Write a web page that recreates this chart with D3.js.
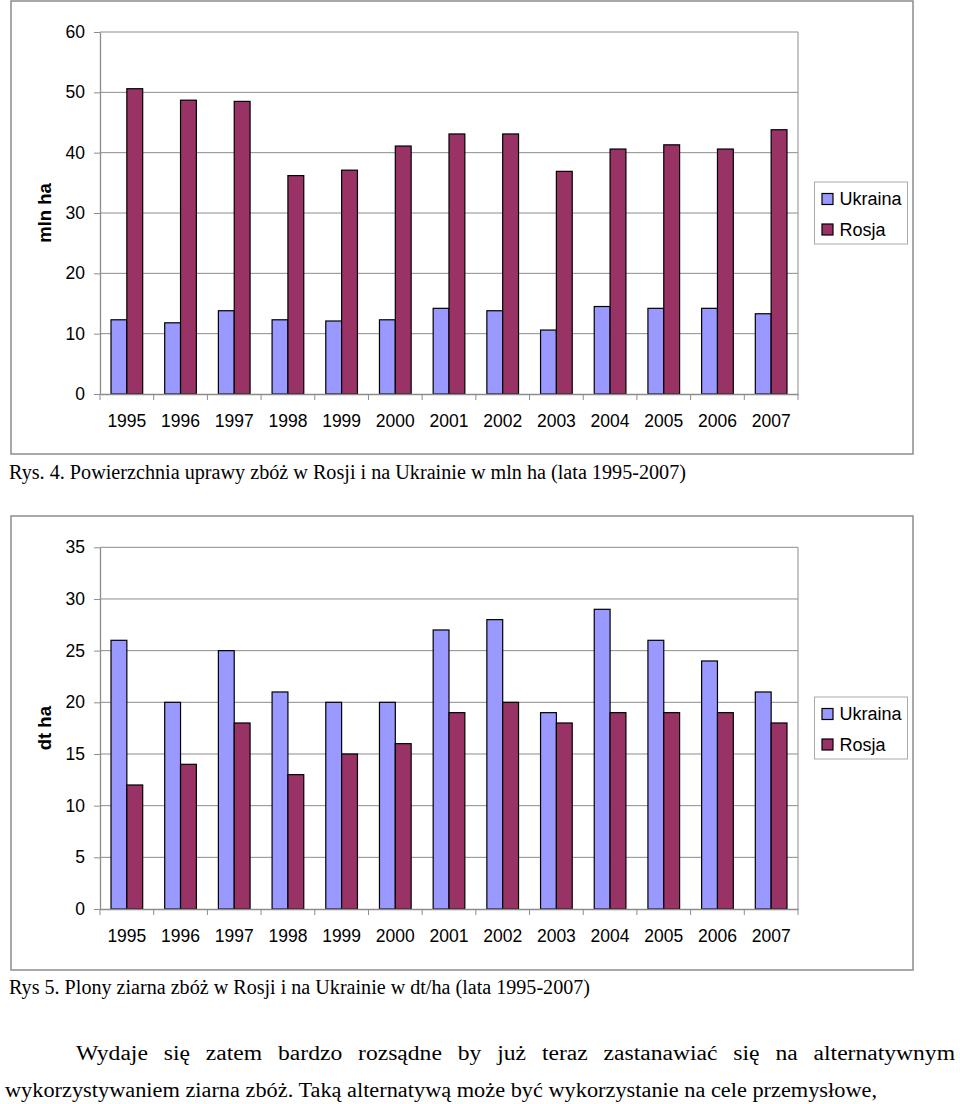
<!DOCTYPE html>
<html><head><meta charset="utf-8">
<script src="https://cdn.jsdelivr.net/npm/d3@7"></script>
<style>body{margin:0;background:#fff}svg{display:block}</style>
</head><body>
<svg id="c" width="960" height="1104"></svg>
<script>
const years = ["1995","1996","1997","1998","1999","2000","2001","2002","2003","2004","2005","2006","2007"];
const seriesNames = ["Ukraina","Rosja"];
const areaUkraina = [12.3,11.8,13.8,12.3,12.1,12.3,14.2,13.8,10.6,14.5,14.2,14.2,13.3];
const areaRosja   = [50.6,48.7,48.5,36.2,37.1,41.1,43.1,43.1,36.9,40.6,41.3,40.6,43.8];
const yieldUkraina = [26,20,25,21,20,20,27,28,19,29,26,24,21];
const yieldRosja   = [12,14,18,13,15,16,19,20,18,19,19,19,18];
const ticksTop = [0,10,20,30,40,50,60];
const ticksBottom = [0,5,10,15,20,25,30,35];
const colors = {"Ukraina":"#9999FF","Rosja":"#993366"};
const caption1 = "Rys. 4. Powierzchnia uprawy zbóż w Rosji i na Ukrainie w mln ha (lata 1995-2007)";
const caption2 = "Rys 5. Plony ziarna zbóż w Rosji i na Ukrainie w dt/ha (lata 1995-2007)";
const para1 = "Wydaje się zatem bardzo rozsądne by już teraz zastanawiać się na alternatywnym";
const para2 = "wykorzystywaniem ziarna zbóż. Taką alternatywą może być wykorzystanie na cele przemysłowe,";

const svg = d3.select("#c");
const sans = "'Liberation Sans', Arial, sans-serif";
const serif = "'Liberation Serif', 'Times New Roman', serif";

function chart(cfg){
  const g = svg.append("g");
  g.append("rect").attr("x",cfg.fx).attr("y",cfg.fy).attr("width",cfg.fw).attr("height",cfg.fh)
    .attr("fill","#fff").attr("stroke","#8c8c8c").attr("stroke-width",1.5);
  const x0 = d3.scaleBand().domain(years).range([cfg.left,cfg.right]).padding(0);
  const bw = x0.bandwidth();
  const x1 = d3.scaleBand().domain(seriesNames).range([bw*0.205,bw*0.795]).padding(0);
  const y = d3.scaleLinear().domain([0,cfg.max]).range([cfg.bottom,cfg.top]);
  g.append("g").selectAll("line").data(cfg.ticks.filter(t=>t>0)).join("line")
    .attr("x1",cfg.left).attr("x2",cfg.right).attr("y1",d=>y(d)).attr("y2",d=>y(d))
    .attr("stroke","#8c8c8c").attr("stroke-width",1);
  g.append("line").attr("x1",cfg.right).attr("x2",cfg.right).attr("y1",cfg.top).attr("y2",cfg.bottom)
    .attr("stroke","#8c8c8c").attr("stroke-width",1);
  const data = years.map((yr,i)=>({yr, vals:[{s:"Ukraina",v:cfg.ua[i]},{s:"Rosja",v:cfg.ru[i]}]}));
  g.append("g").selectAll("g").data(data).join("g")
    .attr("transform",d=>`translate(${x0(d.yr)},0)`)
    .selectAll("rect").data(d=>d.vals).join("rect")
    .attr("x",d=>x1(d.s)).attr("width",x1.bandwidth())
    .attr("y",d=>y(d.v)).attr("height",d=>cfg.bottom-y(d.v))
    .attr("fill",d=>colors[d.s]).attr("stroke","#000").attr("stroke-width",1.2);
  const ya = g.append("g").attr("transform",`translate(${cfg.left},0)`)
    .call(d3.axisLeft(y).tickValues(cfg.ticks).tickSize(6).tickPadding(9).tickSizeOuter(0));
  ya.select(".domain").attr("stroke","#8c8c8c").attr("stroke-width",1.3);
  ya.selectAll(".tick line").attr("stroke","#8c8c8c");
  ya.selectAll("text").attr("font-family",sans).attr("font-size",17.5).attr("fill","#000");
  const xa = g.append("g").attr("transform",`translate(0,${cfg.bottom})`)
    .call(d3.axisBottom(x0).tickSize(0).tickPadding(21));
  xa.select(".domain").attr("stroke","#8c8c8c").attr("stroke-width",1.3);
  xa.selectAll("text").attr("font-family",sans).attr("font-size",17.5).attr("fill","#000");
  const bounds = years.map(d=>x0(d)).concat([cfg.right]);
  g.append("g").selectAll("line").data(bounds).join("line")
    .attr("x1",d=>d).attr("x2",d=>d).attr("y1",cfg.bottom).attr("y2",cfg.bottom+6)
    .attr("stroke","#8c8c8c").attr("stroke-width",1);
  g.append("text").attr("transform",`translate(${cfg.titleX},${(cfg.top+cfg.bottom)/2}) rotate(-90)`)
    .attr("text-anchor","middle").attr("dominant-baseline","central")
    .attr("font-family",sans).attr("font-weight","bold").attr("font-size",18.5).text(cfg.title);
  const lg = g.append("g");
  lg.append("rect").attr("x",cfg.lx).attr("y",cfg.ly).attr("width",93).attr("height",62)
    .attr("fill","#fff").attr("stroke","#aaa").attr("stroke-width",1);
  seriesNames.forEach((s,i)=>{
    const cy = cfg.ly + 17 + i*30.5;
    lg.append("rect").attr("x",cfg.lx+7.5).attr("y",cy-5.5).attr("width",11).attr("height",11)
      .attr("fill",colors[s]).attr("stroke","#000").attr("stroke-width",1.2);
    lg.append("text").attr("x",cfg.lx+25).attr("y",cy).attr("dominant-baseline","central")
      .attr("font-family",sans).attr("font-size",18).text(s);
  });
}

chart({fx:11,fy:1,fw:902,fh:453,left:100,right:798,top:32,bottom:394,max:60,ticks:ticksTop,
  ua:areaUkraina,ru:areaRosja,title:"mln ha",titleX:44,lx:814.5,ly:182});
chart({fx:11,fy:516,fw:902,fh:454,left:100,right:798,top:547.3,bottom:909,max:35,ticks:ticksBottom,
  ua:yieldUkraina,ru:yieldRosja,title:"dt ha",titleX:44,lx:814.5,ly:697});

svg.append("text").attr("x",9).attr("y",479).attr("font-family",serif).attr("font-size",20)
  .attr("textLength",677).attr("lengthAdjust","spacingAndGlyphs").text(caption1);
svg.append("text").attr("x",9).attr("y",994).attr("font-family",serif).attr("font-size",20)
  .attr("textLength",581).attr("lengthAdjust","spacingAndGlyphs").text(caption2);

function justify(text, x0, x1, yb, fs, scaleX){
  const words = text.split(" ");
  const tmp = svg.append("g");
  const widths = words.map(w=>{
    const t = tmp.append("text").attr("font-family",serif).attr("font-size",fs).text(w);
    return t.node().getComputedTextLength()*scaleX;
  });
  tmp.remove();
  const total = d3.sum(widths);
  const gap = (x1-x0-total)/(words.length-1);
  let cx = x0;
  words.forEach((w,i)=>{
    svg.append("text").attr("x",cx).attr("y",yb).attr("font-family",serif).attr("font-size",fs)
      .attr("textLength",widths[i]).attr("lengthAdjust","spacingAndGlyphs").text(w);
    cx += widths[i]+gap;
  });
}
justify(para1, 76, 955, 1060, 20.5, 1.15);
svg.append("text").attr("x",5).attr("y",1097).attr("font-family",serif).attr("font-size",20.5)
  .attr("textLength",872).attr("lengthAdjust","spacingAndGlyphs").text(para2);
</script>
</body></html>
